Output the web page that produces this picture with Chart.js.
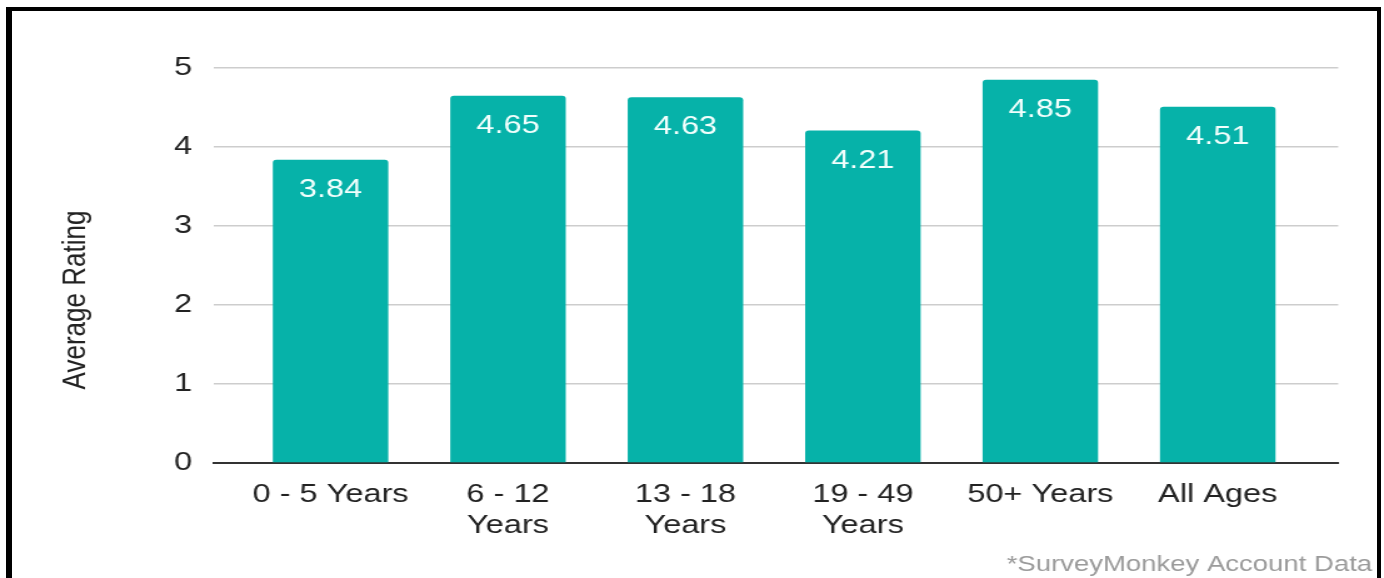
<!DOCTYPE html>
<html>
<head>
<meta charset="utf-8">
<script src="https://cdn.jsdelivr.net/npm/chart.js@4/dist/chart.umd.min.js"></script>
<style>
  html, body { margin: 0; padding: 0; background: #fff; }
  body { width: 1384px; height: 578px; position: relative; overflow: hidden; }
  #frame {
    position: absolute; left: 6px; top: 7px; width: 1365px; height: 600px;
    border-left: 6px solid #000; border-top: 4px solid #000; border-right: 4px solid #000;
  }
  #stage {
    position: absolute; left: 0; top: 0; width: 1107px; height: 578px;
    transform-origin: 0 0; transform: scaleX(1.2502);
  }
</style>
</head>
<body>
<div id="frame"></div>
<div id="stage"><canvas id="chart" width="1107" height="578"></canvas></div>
<script>
// Age groups (multi-line labels) and their average ratings
const categories = [
  ['0 - 5 Years'],
  ['6 - 12', 'Years'],
  ['13 - 18', 'Years'],
  ['19 - 49', 'Years'],
  ['50+ Years'],
  ['All Ages']
];
const ratings = [3.84, 4.65, 4.63, 4.21, 4.85, 4.51];
const yTicks = [0, 1, 2, 3, 4, 5];
const yTitle = 'Average Rating';
const footnote = '*SurveyMonkey Account Data';

const FONT = "'Liberation Sans', Arial, Helvetica, sans-serif";
const TEAL = '#06b2a9';
const INK = '#222222';

// White value labels placed just inside the top of each bar
const valueLabels = {
  id: 'valueLabels',
  afterDatasetsDraw(chart) {
    const ctx = chart.ctx;
    const meta = chart.getDatasetMeta(0);
    ctx.save();
    ctx.font = '26px ' + FONT;
    ctx.fillStyle = '#f2fffd';
    ctx.textAlign = 'center';
    ctx.textBaseline = 'middle';
    meta.data.forEach((bar, i) => {
      ctx.fillText(ratings[i].toFixed(2), bar.x, bar.y + 30);
    });
    ctx.restore();
  }
};

// Rotated y-axis title and the source note in the bottom-right corner
const sideTexts = {
  id: 'sideTexts',
  afterDraw(chart) {
    const ctx = chart.ctx;
    ctx.save();
    ctx.font = '26px ' + FONT;
    ctx.fillStyle = INK;
    ctx.textAlign = 'center';
    ctx.textBaseline = 'alphabetic';
    ctx.translate(67.5, 300);
    ctx.rotate(-Math.PI / 2);
    ctx.fillText(yTitle, 0, 0);
    ctx.restore();

    ctx.save();
    ctx.font = '22px ' + FONT;
    ctx.fillStyle = '#9a9a9a';
    ctx.textAlign = 'right';
    ctx.textBaseline = 'alphabetic';
    ctx.fillText(footnote, 1097.5, 571);
    ctx.restore();
  }
};

new Chart(document.getElementById('chart'), {
  type: 'bar',
  data: {
    labels: categories.map((_, i) => i),
    datasets: [{
      data: ratings,
      backgroundColor: TEAL,
      borderRadius: { topLeft: 3, topRight: 3, bottomLeft: 0, bottomRight: 0 },
      borderSkipped: 'start',
      categoryPercentage: 1,
      barPercentage: 0.651
    }]
  },
  options: {
    responsive: false,
    animation: false,
    events: [],
    layout: { padding: { top: 68, right: 36.6, bottom: 0, left: 0 } },
    plugins: {
      legend: { display: false },
      tooltip: { enabled: false },
      title: { display: false }
    },
    scales: {
      x: {
        type: 'linear',
        bounds: 'data',
        offset: false,
        min: -0.661,
        max: 5.679,
        grid: { display: false, drawTicks: false, offset: false },
        border: { display: true, color: '#333333', width: 2 },
        // one tick per age group, at the group's index
        afterBuildTicks(scale) {
          scale.ticks = categories.map((_, i) => ({ value: i }));
        },
        ticks: {
          autoSkip: false,
          maxRotation: 0,
          padding: 16,
          color: INK,
          font: { family: FONT, size: 26, lineHeight: 1.2 },
          callback: (v) => categories[Math.round(v)] || ''
        },
        afterFit(scale) { scale.height = 115; }
      },
      y: {
        min: yTicks[0],
        max: yTicks[yTicks.length - 1],
        grid: { color: '#cdcdcd', lineWidth: 1.5, drawTicks: false },
        border: { display: false },
        ticks: {
          stepSize: 1,
          padding: 17,
          color: INK,
          font: { family: FONT, size: 26 }
        },
        afterFit(scale) { scale.width = 170.6; }
      }
    }
  },
  plugins: [valueLabels, sideTexts]
});
</script>
</body>
</html>
